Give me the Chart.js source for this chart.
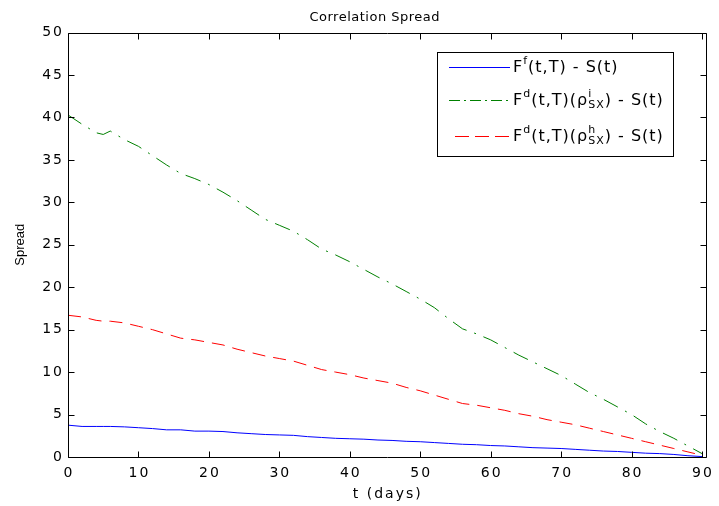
<!DOCTYPE html>
<html>
<head>
<meta charset="utf-8">
<script src="https://cdn.jsdelivr.net/npm/chart.js@4/dist/chart.umd.min.js"></script>
<style>
html, body { margin: 0; padding: 0; background: #fff; }
#wrap { width: 719px; height: 506px; }
</style>
</head>
<body>
<div id="wrap"><canvas id="myChart" width="719" height="506"></canvas></div>
<script>
// days to maturity
var days = [0, 2, 4, 5, 6, 8, 10, 12, 14, 16, 18, 20, 22, 24, 26, 28, 30, 32, 34, 36, 38, 40, 42, 44, 46, 48,
            50, 52, 54, 56, 58, 60, 62, 64, 66, 68, 70, 72, 74, 76, 78, 80, 82, 84, 86, 88, 90];

// F^f(t,T) - S(t)
var spreadF = [3.75, 3.6, 3.6, 3.6, 3.6, 3.55, 3.45, 3.35, 3.2, 3.2, 3.05, 3.05, 3.0, 2.85, 2.75, 2.65, 2.6, 2.55, 2.4, 2.3, 2.2, 2.15, 2.1, 2.0, 1.95, 1.85,
               1.8, 1.7, 1.6, 1.5, 1.45, 1.35, 1.3, 1.2, 1.1, 1.05, 1.0, 0.9, 0.8, 0.7, 0.65, 0.55, 0.45, 0.4, 0.3, 0.15, 0.05];

// F^d(t,T)(rho^i_SX) - S(t)
var spreadDi = [40.3, 39.2, 38.2, 38.0, 38.4, 37.4, 36.6, 35.5, 34.4, 33.4, 32.8, 32.1, 31.2, 30.2, 29.1, 28.0, 27.3, 26.6, 25.6, 24.5, 23.8, 23.0, 22.1, 21.2, 20.4, 19.5,
                18.6, 17.6, 16.3, 15.1, 14.5, 13.8, 12.9, 12.0, 11.2, 10.4, 9.6, 8.6, 7.6, 6.8, 5.9, 5.0, 3.9, 3.0, 2.2, 1.3, 0.4];

// F^d(t,T)(rho^h_SX) - S(t)
var spreadDh = [16.7, 16.5, 16.1, 16.0, 16.0, 15.8, 15.4, 15.0, 14.5, 14.0, 13.8, 13.5, 13.2, 12.7, 12.3, 11.9, 11.6, 11.3, 10.8, 10.3, 10.0, 9.7, 9.3, 9.0, 8.7, 8.2,
                7.8, 7.3, 6.8, 6.3, 6.1, 5.8, 5.5, 5.1, 4.8, 4.4, 4.1, 3.8, 3.4, 3.0, 2.6, 2.2, 1.8, 1.4, 1.0, 0.6, 0.2];

var xTicks = [0, 10, 20, 30, 40, 50, 60, 70, 80, 90];
var yTicks = [0, 5, 10, 15, 20, 25, 30, 35, 40, 45, 50];

var ARIAL = "'Liberation Sans', Arial, sans-serif";
var WIDE = "'DejaVu Sans', Verdana, sans-serif";

function pts(ys) {
    var out = [];
    for (var i = 0; i < days.length; i++)
        out.push({ x: days[i], y: ys[i] });
    return out;
}

// run a draw call with letter spacing (and a small shift) on the context
function spaced(fn, sp, dx) {
    return function () {
        var c = this.ctx;
        c.save();
        c.letterSpacing = sp;
        if (dx) c.translate(dx, 0);
        fn.apply(this, arguments);
        c.restore();
    };
}

// the reference is drawn with wide spaced text, patch it in once
var spacingPlugin = {
    id: 'spacing',
    afterUpdate: function (chart) {
        if (chart._spaced) return;
        chart._spaced = true;
        var xs = chart.scales.x, ys = chart.scales.y;
        // centred text carries the trailing spacing, shift it back by half
        xs.drawLabels = spaced(xs.drawLabels, '2px', 1);
        xs.drawTitle = spaced(xs.drawTitle, '2px', 1);
        ys.drawLabels = spaced(ys.drawLabels, '2px');
        if (chart.titleBlock)
            chart.titleBlock.draw = spaced(chart.titleBlock.draw, '0.5px', -12);
    }
};

// matlab style box with inward ticks on every side
var boxPlugin = {
    id: 'box',
    afterDraw: function (chart) {
        var ctx = chart.ctx;
        var a = chart.chartArea;
        var xs = chart.scales.x, ys = chart.scales.y;
        var L = Math.round(a.left) + 0.5, R = Math.round(a.right) + 0.5;
        var T = Math.round(a.top) + 0.5, B = Math.round(a.bottom) + 0.5;
        ctx.save();
        ctx.strokeStyle = '#000';
        ctx.lineWidth = 1;
        ctx.beginPath();
        ctx.rect(L, T, R - L, B - T);
        for (var i = 0; i < xTicks.length; i++) {
            var px = Math.round(xs.getPixelForValue(xTicks[i])) + 0.5;
            ctx.moveTo(px, B); ctx.lineTo(px, B - 6);
            ctx.moveTo(px, T); ctx.lineTo(px, T + 6);
        }
        for (var j = 0; j < yTicks.length; j++) {
            var py = Math.round(ys.getPixelForValue(yTicks[j])) + 0.5;
            ctx.moveTo(L, py); ctx.lineTo(L + 6, py);
            ctx.moveTo(R, py); ctx.lineTo(R - 6, py);
        }
        ctx.stroke();
        ctx.restore();
    }
};

// draws a run of text pieces, sup / sub handled by offsets
function richText(ctx, x, y, parts) {
    for (var i = 0; i < parts.length; i++) {
        var p = parts[i];
        if (p.stack) {
            ctx.font = '11px ' + WIDE;
            ctx.fillText(p.stack[0], x, y - 7);
            ctx.fillText(p.stack[1], x, y + 4);
            x += Math.max(ctx.measureText(p.stack[0]).width, ctx.measureText(p.stack[1]).width);
        } else {
            ctx.font = (p.sup ? '11px ' : '16px ') + WIDE;
            ctx.fillText(p.t, x, p.sup ? y - 7 : y);
            x += ctx.measureText(p.t).width;
        }
    }
}

var legendPlugin = {
    id: 'mlegend',
    afterDraw: function (chart) {
        var ctx = chart.ctx;
        ctx.save();
        ctx.fillStyle = '#fff';
        ctx.fillRect(437.5, 52.5, 236, 104);
        ctx.strokeStyle = '#000';
        ctx.lineWidth = 1;
        ctx.strokeRect(437.5, 52.5, 236, 104);

        var rows = [
            { y: 67, color: '#0000ff', dash: [], x0: 449, parts: [{ t: 'F' }, { t: 'f', sup: true }, { t: '(t,T) - S(t)' }] },
            { y: 100, color: '#008000', dash: [11, 4, 2, 4], x0: 449, parts: [{ t: 'F' }, { t: 'd', sup: true }, { t: '(t,T)(\u03c1' }, { stack: ['i', 'SX'] }, { t: ') - S(t)' }] },
            { y: 136, color: '#ff0000', dash: [14, 6], x0: 455, parts: [{ t: 'F' }, { t: 'd', sup: true }, { t: '(t,T)(\u03c1' }, { stack: ['h', 'SX'] }, { t: ') - S(t)' }] }
        ];
        for (var i = 0; i < rows.length; i++) {
            var r = rows[i];
            ctx.strokeStyle = r.color;
            ctx.setLineDash(r.dash);
            ctx.beginPath();
            ctx.moveTo(r.x0, r.y + 0.5);
            ctx.lineTo(510, r.y + 0.5);
            ctx.stroke();
            ctx.setLineDash([]);
            ctx.fillStyle = '#000';
            ctx.textBaseline = 'middle';
            ctx.textAlign = 'left';
            ctx.letterSpacing = '1px';
            richText(ctx, 513, r.y + 1, r.parts);
            ctx.letterSpacing = '0px';
        }
        ctx.restore();
    }
};

var whiteBg = {
    id: 'whiteBg',
    beforeDraw: function (chart) {
        var ctx = chart.ctx;
        ctx.save();
        ctx.fillStyle = '#fff';
        ctx.fillRect(0, 0, chart.width, chart.height);
        ctx.restore();
    }
};

var ctx = document.getElementById('myChart').getContext('2d');
var myChart = new Chart(ctx, {
    type: 'line',
    data: {
        datasets: [
            { label: 'F^f(t,T) - S(t)', data: pts(spreadF), borderColor: '#0000ff', borderWidth: 1, pointRadius: 0, tension: 0, fill: false },
            { label: 'F^d(t,T)(rho^i_SX) - S(t)', data: pts(spreadDi), borderColor: '#008000', borderWidth: 1, borderDash: [16, 8, 2, 8], pointRadius: 0, tension: 0, fill: false },
            { label: 'F^d(t,T)(rho^h_SX) - S(t)', data: pts(spreadDh), borderColor: '#ff0000', borderWidth: 1, borderDash: [13, 8], pointRadius: 0, tension: 0, fill: false }
        ]
    },
    options: {
        responsive: false,
        animation: false,
        devicePixelRatio: 1,
        layout: { padding: { left: 0, right: 6, top: 0, bottom: 0 } },
        plugins: {
            legend: { display: false },
            tooltip: { enabled: false },
            title: {
                display: true,
                fullSize: false,
                text: 'Correlation Spread',
                color: '#000',
                font: { family: WIDE, size: 13, weight: 'normal' },
                padding: { top: 10, bottom: 7 }
            }
        },
        scales: {
            x: {
                type: 'linear',
                min: 0,
                max: 90.5,
                afterBuildTicks: function (s) { s.ticks = xTicks.map(function (v) { return { value: v }; }); },
                afterFit: function (s) { s.height = 49; },
                grid: { display: false, drawTicks: false },
                border: { display: false },
                ticks: { color: '#000', font: { family: WIDE, size: 14 }, padding: 8, maxRotation: 0, autoSkip: false },
                title: { display: true, text: 't (days)', color: '#000', font: { family: WIDE, size: 14 }, padding: { top: 0, bottom: 3 } }
            },
            y: {
                min: 0,
                max: 50,
                afterBuildTicks: function (s) { s.ticks = yTicks.map(function (v) { return { value: v }; }); },
                afterFit: function (s) { s.width = 68; },
                grid: { display: false, drawTicks: false },
                border: { display: false },
                ticks: { color: '#000', font: { family: WIDE, size: 14 }, padding: 4 },
                title: { display: true, text: 'Spread', color: '#000', font: { family: ARIAL, size: 13 }, padding: { top: 13, bottom: 0 } }
            }
        }
    },
    plugins: [whiteBg, spacingPlugin, boxPlugin, legendPlugin]
});
</script>
</body>
</html>
